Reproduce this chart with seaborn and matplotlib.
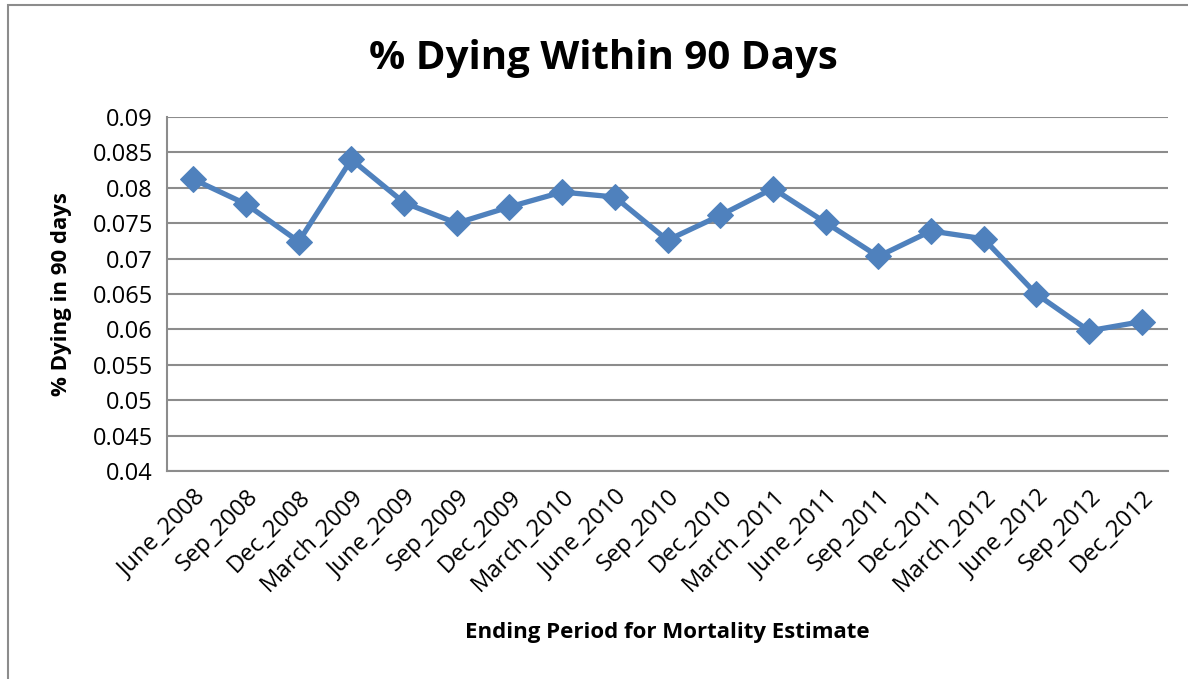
import numpy as np
import pandas as pd
import matplotlib
matplotlib.use("Agg")
import matplotlib.pyplot as plt
import seaborn as sns
from matplotlib.patches import Rectangle

# values
periods = ["June_2008", "Sep_2008", "Dec_2008", "March_2009", "June_2009", "Sep_2009",
           "Dec_2009", "March_2010", "June_2010", "Sep_2010", "Dec_2010", "March_2011",
           "June_2011", "Sep_2011", "Dec_2011", "March_2012", "June_2012", "Sep_2012",
           "Dec_2012"]
pct_dying = [0.0812, 0.0777, 0.0724, 0.0840, 0.0779, 0.0750,
             0.0773, 0.0794, 0.0787, 0.0726, 0.0761, 0.0799,
             0.0751, 0.0703, 0.0739, 0.0728, 0.0650, 0.0598,
             0.0611]
y_ticks = [0.04, 0.045, 0.05, 0.055, 0.06, 0.065, 0.07, 0.075, 0.08, 0.085, 0.09]
y_tick_labels = ["0.04", "0.045", "0.05", "0.055", "0.06", "0.065", "0.07", "0.075",
                 "0.08", "0.085", "0.09"]

df = pd.DataFrame({"period": periods, "pct": pct_dying})

sns.set_style("white")
plt.rcParams['font.family'] = ['Open Sans', 'DejaVu Sans']
plt.rcParams['text.color'] = 'black'
plt.rcParams['xtick.labelcolor'] = 'black'
plt.rcParams['ytick.labelcolor'] = 'black'
plt.rcParams['axes.labelcolor'] = 'black'

fig = plt.figure(figsize=(11.88, 6.79), dpi=100)
ax = fig.add_axes([167 / 1188, 1 - 471 / 679, (1168 - 167) / 1188, (471 - 117) / 679])

# outer chart border
fig.patches.append(Rectangle((8 / 1188, -0.05), 1.2, 1 - 5 / 679 + 0.05,
                             transform=fig.transFigure, fill=False,
                             edgecolor="#8c8c8c", linewidth=1.5))

sns.lineplot(data=df, x="period", y="pct", sort=False, ax=ax, color="#4F81BD",
             linewidth=3.8, marker="D", markersize=13, markeredgecolor="#4F81BD")

ax.set_xlim(-0.5, len(periods) - 0.5)
ax.set_ylim(0.04, 0.09)
ax.set_yticks(y_ticks)
ax.set_yticklabels(y_tick_labels, fontsize=17)
ax.grid(axis="y", color="#8c8c8c", linewidth=1.5)
ax.set_axisbelow(True)

ax.set_xticks(range(len(periods)))
ax.set_xticklabels(periods, rotation=45, ha="right", rotation_mode="anchor", fontsize=17)
ax.tick_params(axis="x", which="major", length=0, pad=10)
ax.set_xticks(np.arange(-0.5, len(periods), 1.0), minor=True)
ax.tick_params(axis="x", which="minor", length=6, color="#8c8c8c", width=1.5, direction="out")
ax.tick_params(axis="y", length=6, color="#8c8c8c", width=1.5, direction="out", pad=4)

for side in ["top", "right"]:
    ax.spines[side].set_visible(False)
for side in ["left", "bottom"]:
    ax.spines[side].set_color("#8c8c8c")
    ax.spines[side].set_linewidth(1.5)

ax.set_xlabel("Ending Period for Mortality Estimate", fontsize=16, fontweight="bold")
ax.xaxis.set_label_coords(0.5, -(622 - 471) / (471 - 117))
ax.set_ylabel("% Dying in 90 days", fontsize=16, fontweight="bold")
ax.yaxis.set_label_coords(-(167 - 72) / (1168 - 167), 0.5)
fig.text(603 / 1188, 1 - 58 / 679, "% Dying Within 90 Days", fontsize=29, fontweight="bold",
         ha="center", va="center")

fig.savefig("out.png", dpi=100)
